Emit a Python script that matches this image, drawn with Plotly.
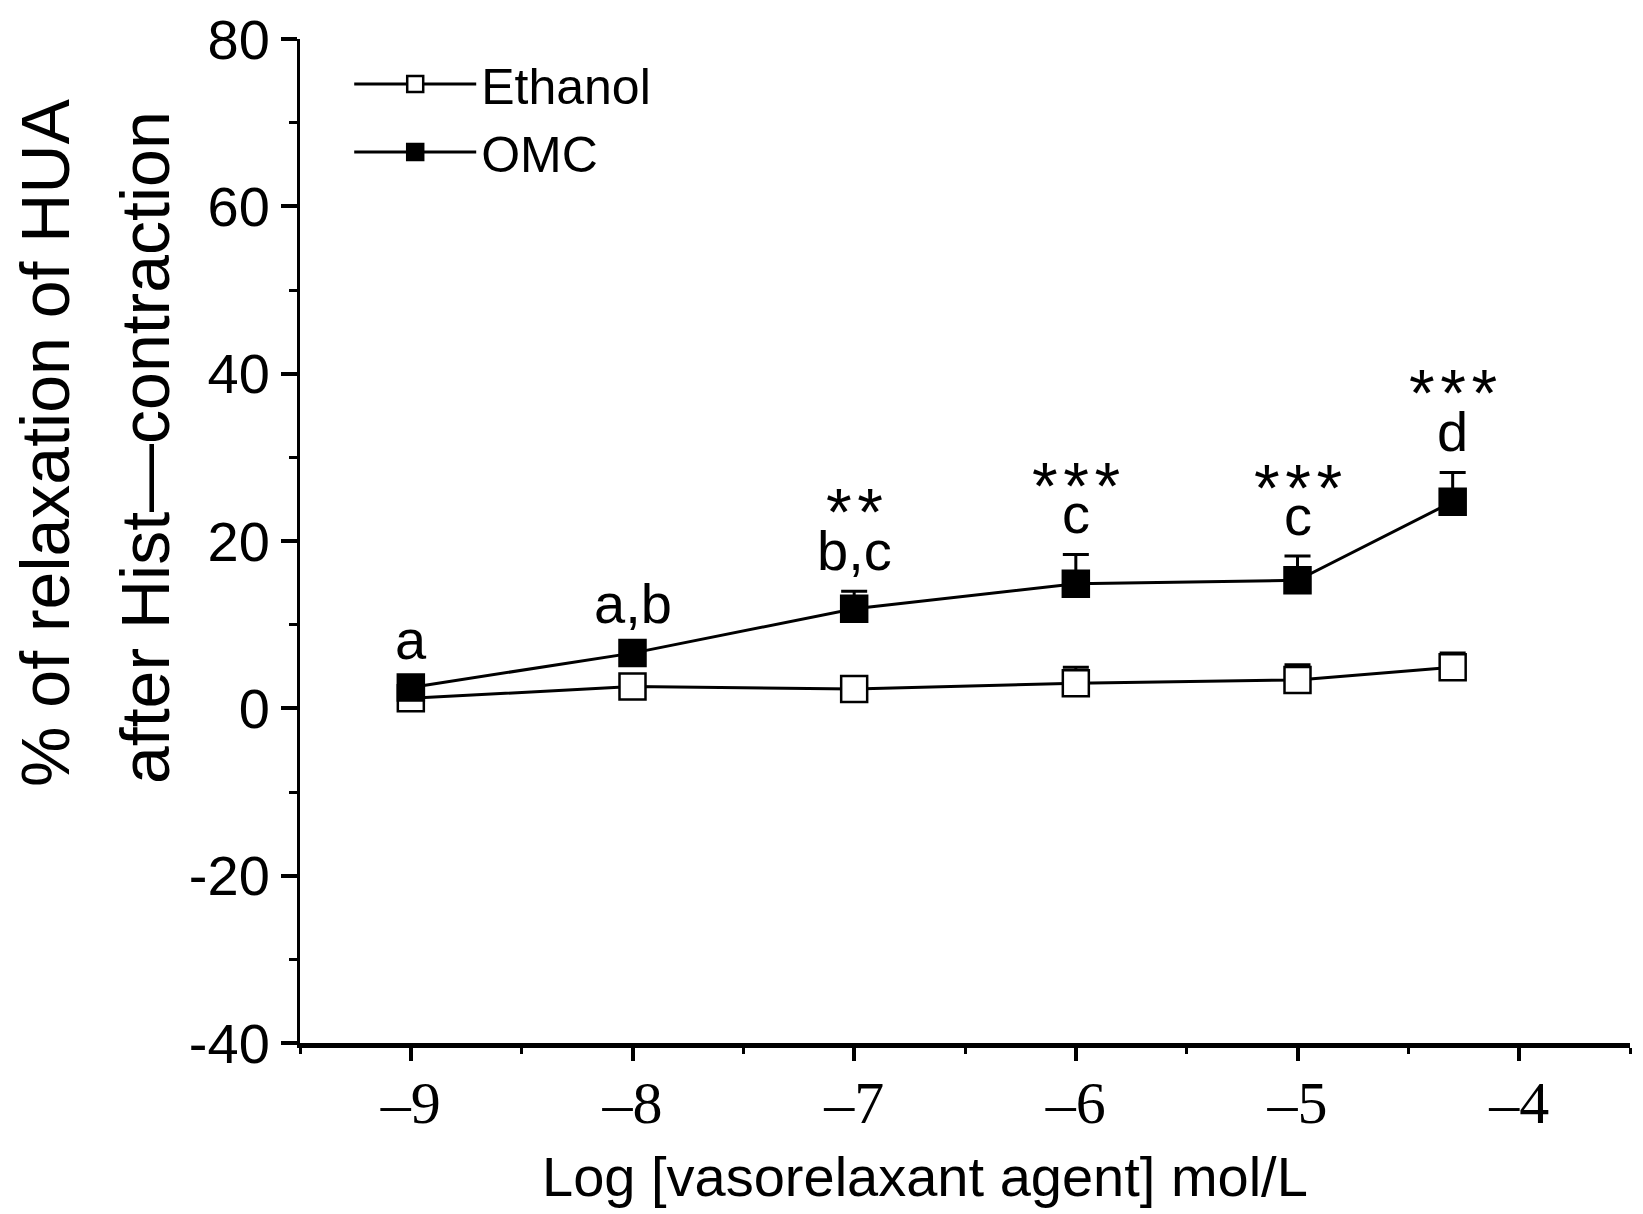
import plotly.graph_objects as go

# ---- data ----
log_conc = [-9, -8, -7, -6, -5, -4.3]
x_tick_vals = [-9, -8, -7, -6, -5, -4]
x_tick_text = ["–9", "–8", "–7", "–6", "–5", "–4"]
y_tick_vals = [-40, -20, 0, 20, 40, 60, 80]
y_tick_text = ["-40", "-20", "0", "20", "40", "60", "80"]

ethanol_mean = [1.2, 2.6, 2.3, 3.0, 3.4, 4.9]
ethanol_err = [0.5, 1.0, 1.2, 1.9, 1.8, 1.7]

omc_mean = [2.5, 6.6, 11.9, 14.9, 15.3, 24.7]
omc_err = [0.8, 1.0, 2.1, 3.5, 2.9, 3.5]

letter_labels = ["a", "a,b", "b,c", "c", "c", "d"]
star_labels = ["", "", "**", "***", "***", "***"]

y_title_1 = "% of relaxation of HUA"
y_title_2 = "after Hist—contraction"
x_title = "Log [vasorelaxant agent] mol/L"

SANS = "Liberation Sans, Arial, sans-serif"
SERIF = "Liberation Serif, Times New Roman, serif"

W, H = 1643, 1214
L, T = 292, 31
pw, ph = 1330, 1004
R, B = W - L - pw, H - T - ph

fig = go.Figure()

fig.add_trace(go.Scatter(
    x=log_conc, y=ethanol_mean, name="Ethanol", mode="lines+markers",
    line=dict(color="black", width=3),
    marker=dict(symbol="square", size=26, color="white", line=dict(color="black", width=2.5)),
    error_y=dict(type="data", symmetric=False, array=ethanol_err,
                 arrayminus=[0] * len(ethanol_err), color="black", thickness=3, width=13),
))
fig.add_trace(go.Scatter(
    x=log_conc, y=omc_mean, name="OMC", mode="lines+markers",
    line=dict(color="black", width=3),
    marker=dict(symbol="square", size=26, color="black", line=dict(color="black", width=2.5)),
    error_y=dict(type="data", symmetric=False, array=omc_err,
                 arrayminus=[0] * len(omc_err), color="black", thickness=3, width=13),
))

annotations = []
for x, m, e, lt, st in zip(log_conc, omc_mean, omc_err, letter_labels, star_labels):
    top = m + e
    letter_shift = 41
    annotations.append(dict(x=x, y=top, xref="x", yref="y", text=lt, showarrow=False,
                            yshift=letter_shift,
                            font=dict(family=SANS, size=56, color="black")))
    if st:
        tall = any(ch in "bdfhklt" for ch in lt)
        star_shift = letter_shift + (38 if tall else 27)
        annotations.append(dict(x=x, y=top, xref="x", yref="y",
                                text="\u200a".join(st), showarrow=False,
                                yshift=star_shift,
                                font=dict(family=SANS, size=66, color="black")))

title_specs = [
    (y_title_1, 37, 435, -90, 68),
    (y_title_2, 137, 440, -90, 68),
    (x_title, 917, 1168, 0, 56),
]
for txt, px, py, ang, fs in title_specs:
    annotations.append(dict(x=(px - L) / pw, y=1 - (py - T) / ph, xref="paper", yref="paper",
                            text=txt, showarrow=False, textangle=ang,
                            xanchor="center", yanchor="middle",
                            font=dict(family=SANS, size=fs, color="black")))

fig.update_layout(
    width=W, height=H,
    margin=dict(l=L, r=R, t=T, b=B, pad=0, autoexpand=False),
    paper_bgcolor="white", plot_bgcolor="white",
    showlegend=True,
    legend=dict(x=0.037, y=0.994, xanchor="left", yanchor="top",
                font=dict(family=SANS, size=50, color="black"),
                bgcolor="rgba(0,0,0,0)", itemwidth=122, tracegroupgap=0),
    annotations=annotations,
    xaxis=dict(range=[-9.5, -3.5], tickvals=x_tick_vals, ticktext=x_tick_text,
               automargin=False,
               showgrid=False, zeroline=False, showline=True, linecolor="black", linewidth=5,
               ticks="outside", ticklen=13, tickwidth=4, tickcolor="black",
               tickfont=dict(family=SERIF, size=60, color="black"),
               ticklabelstandoff=-10, ticklabeloverflow="allow",
               minor=dict(dtick=0.5, tick0=-9, ticks="outside", ticklen=6, tickwidth=3,
                          tickcolor="black", showgrid=False)),
    yaxis=dict(range=[-40.0001, 80.0001], tickvals=y_tick_vals, ticktext=y_tick_text,
               automargin=False,
               showgrid=False, zeroline=False, showline=True, linecolor="black", linewidth=3,
               ticks="outside", ticklen=16, tickwidth=4, tickcolor="black",
               tickfont=dict(family=SANS, size=56, color="black"),
               ticklabeloverflow="allow",
               minor=dict(dtick=10, tick0=0, ticks="outside", ticklen=8, tickwidth=3,
                          tickcolor="black", showgrid=False)),
)

fig.write_html("out.html")
